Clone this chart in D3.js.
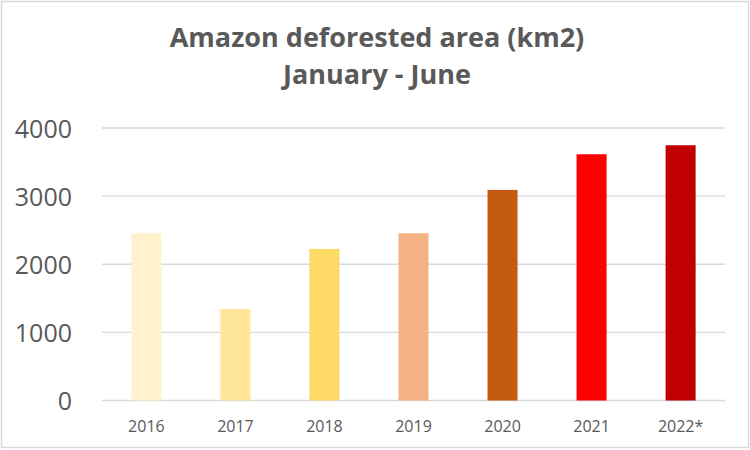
<!DOCTYPE html>
<html>
<head>
<meta charset="utf-8">
<script src="https://cdn.jsdelivr.net/npm/d3@7"></script>
<style>
  body { margin: 0; background: #fff; }
  svg { display: block; }
</style>
</head>
<body>
<div id="chart"></div>
<script>
// data
const years = ["2016", "2017", "2018", "2019", "2020", "2021", "2022*"];
const areas = [2455, 1343, 2225, 2455, 3091, 3615, 3747];
const barColors = ["#FFF2CC", "#FFE699", "#FFD966", "#F4B183", "#C55A11", "#FF0000", "#C00000"];
const yTicks = [0, 1000, 2000, 3000, 4000];
const titleLines = ["Amazon deforested area (km2)", "January - June"];

const W = 750, H = 450;
const margin = {top: 128, right: 25, bottom: 49.5, left: 102};
const textColor = "#595959";
const font = "'Open Sans', 'Liberation Sans', sans-serif";

const svg = d3.select("#chart").append("svg")
    .attr("width", W)
    .attr("height", H);

// chart frame
svg.append("rect")
    .attr("x", 1.5).attr("y", 1.5)
    .attr("width", W - 3).attr("height", H - 4)
    .attr("fill", "#fff")
    .attr("stroke", "#d9d9d9")
    .attr("stroke-width", 1.5);

const x = d3.scaleBand()
    .domain(years)
    .range([margin.left, W - margin.right])
    .paddingInner(0.663)
    .paddingOuter(0.33);

const y = d3.scaleLinear()
    .domain([0, 4000])
    .range([H - margin.bottom, margin.top]);

// gridlines
svg.append("g")
    .selectAll("line")
    .data(yTicks)
    .join("line")
    .attr("x1", margin.left)
    .attr("x2", W - margin.right)
    .attr("y1", d => y(d))
    .attr("y2", d => y(d))
    .attr("stroke", "#d9d9d9")
    .attr("stroke-width", 1.3);

// y axis labels
const yAxis = svg.append("g")
    .attr("transform", `translate(${margin.left}, 0)`)
    .call(d3.axisLeft(y).tickValues(yTicks).tickSize(0).tickPadding(30).tickFormat(d3.format("d")));
yAxis.select(".domain").remove();
yAxis.selectAll("text")
    .attr("fill", textColor)
    .style("font-family", font)
    .style("font-size", "25px")
    .attr("dy", "0.36em");

// bars
svg.append("g")
    .selectAll("rect")
    .data(areas)
    .join("rect")
    .attr("x", (d, i) => x(years[i]))
    .attr("width", x.bandwidth())
    .attr("y", d => y(d))
    .attr("height", d => y(0) - y(d))
    .attr("fill", (d, i) => barColors[i]);

// x axis labels
const xAxis = svg.append("g")
    .attr("transform", `translate(0, ${y(0)})`)
    .call(d3.axisBottom(x).tickSize(0).tickPadding(20));
xAxis.select(".domain").remove();
xAxis.selectAll("text")
    .attr("fill", textColor)
    .style("font-family", font)
    .style("font-size", "16px");

// title
svg.append("g")
    .selectAll("text")
    .data(titleLines)
    .join("text")
    .attr("x", 377)
    .attr("y", (d, i) => 46.5 + i * 37)
    .attr("text-anchor", "middle")
    .attr("fill", textColor)
    .style("font-family", font)
    .style("font-weight", "bold")
    .style("font-size", "27px")
    .text(d => d);
</script>
</body>
</html>
